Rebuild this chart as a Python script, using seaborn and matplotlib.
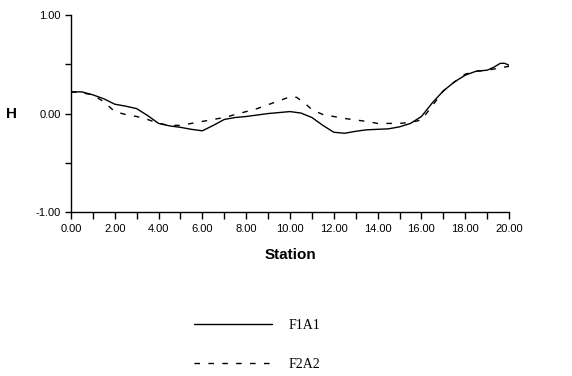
import numpy as np
import pandas as pd
import seaborn as sns
import matplotlib.pyplot as plt

# stations
station_f1 = [0.0, 0.5, 1.0, 1.5, 2.0, 2.5, 3.0, 3.5, 4.0, 4.5, 5.0, 5.5, 6.0, 6.5, 7.0,
              7.5, 8.0, 8.5, 9.0, 9.5, 10.0, 10.5, 11.0, 11.5, 12.0, 12.5, 13.0, 13.5,
              14.0, 14.5, 15.0, 15.5, 16.0, 16.5, 17.0, 17.5, 18.0, 18.5, 19.0, 19.3,
              19.6, 19.8, 20.0]
h_f1 = [0.22, 0.22, 0.19, 0.15, 0.095, 0.075, 0.05, -0.02, -0.10, -0.125, -0.14, -0.16,
        -0.175, -0.12, -0.06, -0.04, -0.03, -0.015, 0.0, 0.01, 0.02, 0.005, -0.04, -0.12,
        -0.19, -0.20, -0.18, -0.165, -0.16, -0.155, -0.135, -0.10, -0.03, 0.11, 0.23,
        0.32, 0.39, 0.43, 0.44, 0.47, 0.51, 0.51, 0.49]

station_f2 = [0.0, 0.5, 1.0, 1.5, 2.0, 2.5, 3.0, 3.5, 4.0, 4.5, 5.0, 5.5, 6.0, 6.5, 7.0,
              7.5, 8.0, 8.5, 9.0, 9.5, 10.0, 10.3, 10.7, 11.0, 11.5, 12.0, 12.5, 13.0,
              13.5, 14.0, 14.5, 15.0, 15.5, 16.0, 16.5, 17.0, 17.5, 18.0, 18.5, 19.0,
              19.5, 20.0]
h_f2 = [0.22, 0.21, 0.19, 0.12, 0.02, -0.01, -0.03, -0.06, -0.10, -0.12, -0.12, -0.10,
        -0.08, -0.06, -0.04, -0.01, 0.02, 0.05, 0.09, 0.13, 0.17, 0.165, 0.10, 0.04,
        -0.01, -0.03, -0.05, -0.065, -0.08, -0.10, -0.10, -0.10, -0.09, -0.065, 0.08,
        0.23, 0.32, 0.40, 0.43, 0.44, 0.46, 0.48]

df = pd.concat([
    pd.DataFrame({'Station': station_f1, 'H': h_f1, 'case': 'F1A1'}),
    pd.DataFrame({'Station': station_f2, 'H': h_f2, 'case': 'F2A2'}),
])

sns.set_style('ticks')
plt.rcParams['font.family'] = ['Liberation Sans', 'DejaVu Sans']
plt.rcParams['text.color'] = 'black'
plt.rcParams['axes.labelcolor'] = 'black'
plt.rcParams['xtick.color'] = 'black'
plt.rcParams['ytick.color'] = 'black'

fig = plt.figure(figsize=(5.72, 3.76), dpi=100)
ax = fig.add_axes([0.124, 0.436, 0.766, 0.524])

sns.lineplot(data=df, x='Station', y='H', style='case', color='black',
             dashes={'F1A1': '', 'F2A2': (4, 6)}, linewidth=1.0, ax=ax,
             sort=False, estimator=None)

ax.set_xlim(0, 20)
ax.set_ylim(-1, 1)
ax.set_xticks(np.arange(0, 21, 2))
ax.set_xticks(np.arange(0, 21, 1), minor=True)
ax.set_xticklabels([f'{v:.2f}' for v in np.arange(0, 21, 2)])
ax.set_yticks([-1, 0, 1])
ax.set_yticks([-0.5, 0.5], minor=True)
ax.set_yticklabels(['-1.00', '0.00', '1.00'])
ax.tick_params(axis='both', which='both', direction='out', length=4, width=1,
               labelsize=8, color='black', labelcolor='black')
ax.tick_params(axis='x', which='both', length=5)
sns.despine(ax=ax)
for s in ['left', 'bottom']:
    ax.spines[s].set_linewidth(1.0)
    ax.spines[s].set_color('black')

ax.set_xlabel('Station', fontsize=11, fontweight='bold', labelpad=10)
ax.set_ylabel('H', fontsize=11, fontweight='bold', rotation=0)
ax.yaxis.set_label_coords(-0.135, 0.5)
ax.yaxis.label.set_verticalalignment('center')

handles, labels = ax.get_legend_handles_labels()
ax.get_legend().remove()
leg = fig.legend(handles, labels, loc='upper left', bbox_to_anchor=(0.318, 0.186),
                 frameon=False, handlelength=5.6, handletextpad=1.2, labelspacing=1.9,
                 prop={'family': ['Liberation Serif', 'DejaVu Serif'], 'size': 10})

fig.savefig('out.png', dpi=100)
